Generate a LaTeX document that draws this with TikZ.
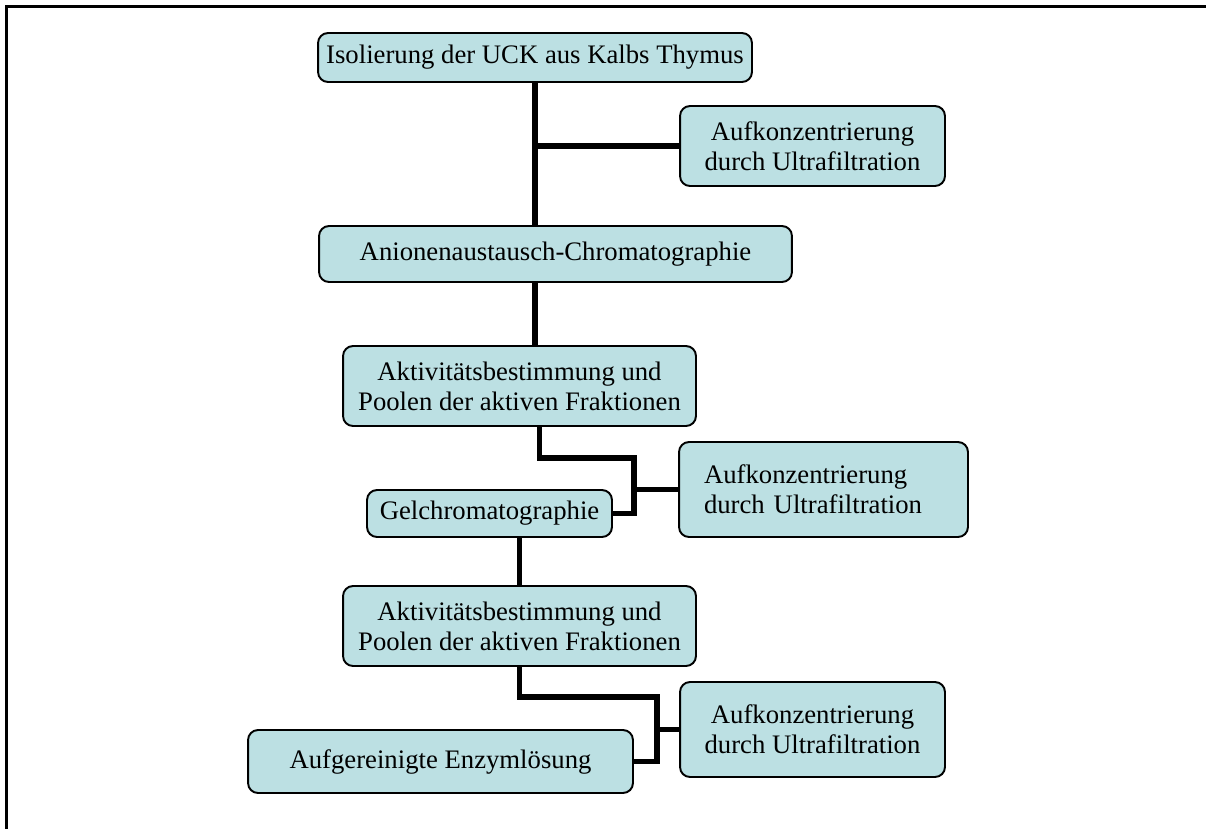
\documentclass[tikz,border=0pt]{standalone}
\usepackage{fontspec}
\setmainfont{Liberation Serif}
\usetikzlibrary{positioning}
\definecolor{BoxFill}{HTML}{BCE0E3}
\definecolor{Ink}{HTML}{000000}

\begin{document}
\begin{tikzpicture}[
    x=0.02cm, y=-0.02cm,
    stage/.style={draw=Ink, fill=BoxFill, line width=1.1pt, rounded corners=0.2cm,
                  text=Ink, font=\fontsize{15.2}{17}\selectfont, align=center,
                  inner sep=0pt},
    link/.style={draw=Ink, line width=2.9pt, line join=miter},
    frame/.style={draw=Ink, line width=1.2pt}
  ]
  \useasboundingbox (0,0) rectangle (1206,829);
  \draw[frame] (1206,6.5) -- (6.5,6.5) -- (6.5,829);

  % process steps
  \node[stage, minimum width=8.68cm, minimum height=0.98cm] (iso) at (535,57.5)
    {Isolierung der UCK aus Kalbs Thymus};
  \node[stage, minimum width=5.3cm, minimum height=1.6cm] (aufkA) at (812.5,146)
    {Aufkonzentrierung\\durch Ultrafiltration};
  \node[stage, minimum width=9.46cm, minimum height=1.12cm] (anion) at (555.5,254)
    {Anionenaustausch-Chromatographie};
  \node[stage, minimum width=7.06cm, minimum height=1.6cm] (aktivA) at (519.5,386)
    {Aktivitätsbestimmung und\\Poolen der aktiven Fraktionen};
  \node[stage, minimum width=4.9cm, minimum height=0.94cm] (gel) at (489.5,513.5)
    {Gelchromatographie};
  \node[stage, minimum width=5.78cm, minimum height=1.9cm, text width=4.78cm,
        inner xsep=0.5cm, align=left] (aufkB) at (823.5,489.5)
    {Aufkonzentrierung\\durch Ultrafiltration};
  \node[stage, minimum width=7.06cm, minimum height=1.6cm] (aktivB) at (519.5,626)
    {Aktivitätsbestimmung und\\Poolen der aktiven Fraktionen};
  \node[stage, minimum width=5.3cm, minimum height=1.9cm] (aufkC) at (812.5,729.5)
    {Aufkonzentrierung\\durch Ultrafiltration};
  \node[stage, minimum width=7.7cm, minimum height=1.26cm] (enzym) at (440.5,761.5)
    {Aufgereinigte Enzymlösung};

  \coordinate (knotA) at (634,458);
  \coordinate (knotB) at (657,697);

  % connectors
  \draw[link] (iso.south) -- (iso.south |- anion.north);
  \draw[link] (iso.south |- aufkA.west) -- (aufkA.west);
  \draw[link] (iso.south |- anion.south) -- (iso.south |- aktivA.north);
  \draw[link] ([xshift=4mm]aktivA.south) |- (knotA) |- (gel.east);
  \draw[link] (knotA |- aufkB.west) -- (aufkB.west);
  \draw[link] (aktivB.north |- gel.south) -- (aktivB.north);
  \draw[link] (aktivB.south) |- (knotB) |- (enzym.east);
  \draw[link] (knotB |- aufkC.west) -- (aufkC.west);
\end{tikzpicture}
\end{document}
